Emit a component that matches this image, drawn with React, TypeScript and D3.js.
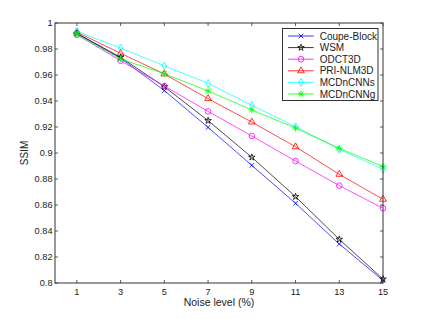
import * as d3 from "d3";

const noiseLevels = [1, 3, 5, 7, 9, 11, 13, 15];
const coupeBlock = [0.992, 0.973, 0.948, 0.9197, 0.8905, 0.8613, 0.830, 0.802];
const wsm = [0.992, 0.9736, 0.951, 0.9249, 0.8967, 0.8664, 0.8336, 0.803];
const odct3d = [0.991, 0.971, 0.9515, 0.932, 0.9131, 0.8938, 0.8749, 0.8575];
const priNlm3d = [0.993, 0.9767, 0.9608, 0.9418, 0.9238, 0.9048, 0.8836, 0.8644];
const mcdncnns = [0.9935, 0.9808, 0.967, 0.9536, 0.9367, 0.9202, 0.9028, 0.8875];
const mcdncnng = [0.991, 0.9723, 0.961, 0.9477, 0.9331, 0.9192, 0.9036, 0.8895];

const yTicks = [0.8, 0.82, 0.84, 0.86, 0.88, 0.9, 0.92, 0.94, 0.96, 0.98, 1];

const plusPath = d3.symbol(d3.symbolPlus, 18)() ?? "";
const timesPath = d3.symbol(d3.symbolTimes, 18)() ?? "";

const series = [
  { name: "Coupe-Block", values: coupeBlock, color: "#0000ff", marker: d3.symbol(d3.symbolTimes, 16)() ?? "" },
  { name: "WSM", values: wsm, color: "#000000", marker: d3.symbol(d3.symbolStar, 13)() ?? "" },
  { name: "ODCT3D", values: odct3d, color: "#ff00ff", marker: d3.symbol(d3.symbolCircle, 25)() ?? "" },
  { name: "PRI-NLM3D", values: priNlm3d, color: "#ff0000", marker: d3.symbol(d3.symbolTriangle, 20)() ?? "" },
  { name: "MCDnCNNs", values: mcdncnns, color: "#00ffff", marker: d3.symbol(d3.symbolDiamond, 18)() ?? "" },
  { name: "MCDnCNNg", values: mcdncnng, color: "#00ff00", marker: plusPath + timesPath },
];

const width = 424;
const height = 319;
const margin = { left: 55, right: 41, top: 23, bottom: 36 };
const font = "Arial, 'Liberation Sans', Helvetica, sans-serif";

export default function App() {
  const x = d3.scaleLinear().domain([0, 15]).range([margin.left, width - margin.right]);
  const y = d3.scaleLinear().domain([0.8, 1]).range([height - margin.bottom, margin.top]);
  const line = d3
    .line<number>()
    .x((_, i) => x(noiseLevels[i]))
    .y((v) => y(v));

  const [x0, x1] = x.range();
  const [yb, yt] = y.range();
  const tickLen = 3;
  const axisColor = "#333";

  return (
    <svg
      width={width}
      height={height}
      style={{ position: "absolute", left: 0, top: 0, background: "#fff" }}
      fontFamily={font}
    >
      <rect x={0} y={0} width={width} height={height} fill="#fff" />

      {/* ticks */}
      {yTicks.map((t) => (
        <g key={`y${t}`}>
          <line x1={x0} x2={x0 + tickLen} y1={y(t)} y2={y(t)} stroke={axisColor} strokeWidth={0.8} />
          <line x1={x1} x2={x1 - tickLen} y1={y(t)} y2={y(t)} stroke={axisColor} strokeWidth={0.8} />
          <text x={52.5} y={y(t)} dy="0.35em" textAnchor="end" fontSize={9.2} fill="#222">
            {d3.format("~g")(t)}
          </text>
        </g>
      ))}
      {noiseLevels.map((t) => (
        <g key={`x${t}`}>
          <line x1={x(t)} x2={x(t)} y1={yb} y2={yb - tickLen} stroke={axisColor} strokeWidth={0.8} />
          <line x1={x(t)} x2={x(t)} y1={yt} y2={yt + tickLen} stroke={axisColor} strokeWidth={0.8} />
          <text x={x(t)} y={295} textAnchor="middle" fontSize={9.2} fill="#222">
            {t}
          </text>
        </g>
      ))}

      {/* data */}
      {series.map((s) => (
        <g key={s.name}>
          <path d={line(s.values) ?? undefined} fill="none" stroke={s.color} strokeWidth={0.7} />
          {s.values.map((v, i) => (
            <path
              key={i}
              d={s.marker}
              transform={`translate(${x(noiseLevels[i])},${y(v)})`}
              fill="none"
              stroke={s.color}
              strokeWidth={0.8}
            />
          ))}
        </g>
      ))}

      {/* axes box */}
      <rect
        x={x0}
        y={yt}
        width={x1 - x0}
        height={yb - yt}
        fill="none"
        stroke={axisColor}
        strokeWidth={1}
      />

      {/* labels */}
      <text x={219} y={306} textAnchor="middle" fontSize={10.5} fill="#222">
        Noise level (%)
      </text>
      <text
        transform={`translate(28,${(yt + yb) / 2}) rotate(-90)`}
        textAnchor="middle"
        fontSize={10}
        fill="#222"
      >
        SSIM
      </text>

      {/* legend */}
      <g>
        <rect x={282.5} y={28.5} width={95.5} height={72} fill="#fff" stroke={axisColor} strokeWidth={1} />
        {series.map((s, i) => {
          const ly = 36 + i * 11.6;
          return (
            <g key={s.name}>
              <line x1={288} x2={313.7} y1={ly} y2={ly} stroke={s.color} strokeWidth={0.8} />
              <path d={s.marker} transform={`translate(301,${ly})`} fill="none" stroke={s.color} strokeWidth={0.8} />
              <text x={319.7} y={ly} dy="0.35em" fontSize={10} fill="#222">
                {s.name}
              </text>
            </g>
          );
        })}
      </g>
    </svg>
  );
}
